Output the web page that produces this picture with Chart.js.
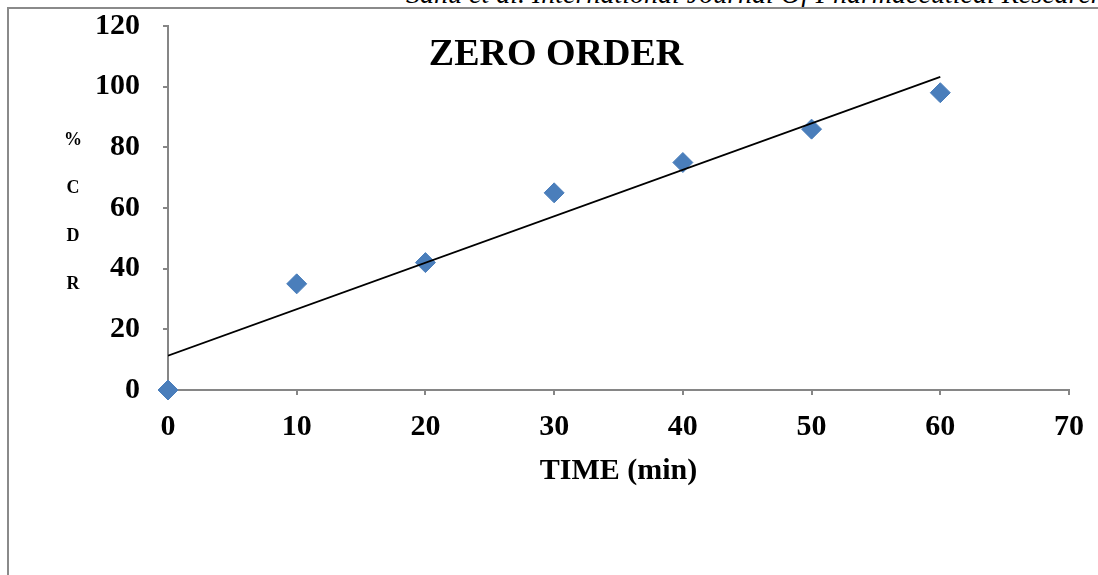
<!DOCTYPE html>
<html>
<head>
<meta charset="utf-8">
<script src="https://cdn.jsdelivr.net/npm/chart.js@4/dist/chart.umd.min.js"></script>
<style>
  html, body { margin: 0; padding: 0; background: #fff; overflow: hidden; }
  #wrap { position: relative; width: 1098px; height: 575px; overflow: hidden; }
  #frame {
    position: absolute; left: 7px; top: 7px; width: 1200px; height: 700px;
    border-top: 2px solid #8a8a8a; border-left: 2px solid #8a8a8a;
  }
  #header {
    position: absolute; left: 406px; top: -20px; white-space: nowrap;
    font: italic 28px "Liberation Serif", serif; line-height: 1; color: #000;
  }
  canvas { position: absolute; left: 0; top: 0; }
</style>
</head>
<body>
<div id="wrap">
  <div id="header">Sahu et al. International Journal Of Pharmaceutical Research</div>
  <div id="frame"></div>
  <canvas id="chart" width="1098" height="575"></canvas>
</div>
<script>
// measured points (% CDR vs time)
const timeMin = [0, 10, 20, 30, 40, 50, 60];
const cdr = [0, 35, 42, 65, 75, 86, 98];
// linear trend line, end points
const trendX = [0, 60];
const trendY = [11.3, 103.2];
const chartTitle = "ZERO ORDER";
const xTitle = "TIME (min)";
const yTitle = ["%", "C", "D", "R"];

const serif = "'Liberation Serif', 'Times New Roman', serif";
const axisGray = "#868686";

const labelsPlugin = {
  id: "labels",
  afterDraw(chart) {
    const ctx = chart.ctx;
    ctx.save();
    ctx.fillStyle = "#000";
    ctx.textAlign = "center";
    ctx.textBaseline = "alphabetic";
    ctx.font = "bold 38px " + serif;
    ctx.fillText(chartTitle, 556, 65);
    ctx.font = "bold 18px " + serif;
    yTitle.forEach((t, i) => {
      ctx.fillText(t, 73, 145 + i * 48);
    });
    ctx.restore();
  },
};

new Chart(document.getElementById("chart"), {
  type: "scatter",
  data: {
    datasets: [
      {
        type: "line",
        label: "trend",
        data: trendX.map((x, i) => ({ x: x, y: trendY[i] })),
        borderColor: "#000",
        borderWidth: 1.8,
        pointRadius: 0,
        fill: false,
        order: 0,
      },
      {
        label: "% CDR",
        data: timeMin.map((x, i) => ({ x: x, y: cdr[i] })),
        pointStyle: "rectRot",
        pointRadius: 10,
        pointBackgroundColor: "#4a7ebb",
        pointBorderColor: "#4a7ebb",
        pointBorderWidth: 1,
        clip: false,
        order: 1,
      },
    ],
  },
  options: {
    responsive: false,
    animation: false,
    layout: { padding: { left: 8, right: 28, top: 26, bottom: 86 } },
    plugins: {
      legend: { display: false },
      tooltip: { enabled: false },
    },
    scales: {
      x: {
        type: "linear",
        min: 0,
        max: 70,
        ticks: {
          stepSize: 10,
          padding: 14,
          color: "#000",
          font: { family: serif, size: 30, weight: "bold" },
        },
        grid: { drawOnChartArea: false, drawTicks: true, tickLength: 5, color: axisGray, lineWidth: 2 },
        border: { color: axisGray, width: 2 },
        title: {
          display: true,
          text: xTitle,
          color: "#000",
          padding: 0,
          font: { family: serif, size: 30, weight: "bold" },
        },
        afterFit(s) { s.height = 99; },
      },
      y: {
        min: 0,
        max: 120,
        ticks: {
          stepSize: 20,
          padding: 23,
          color: "#000",
          font: { family: serif, size: 30, weight: "bold" },
        },
        grid: { drawOnChartArea: false, drawTicks: true, tickLength: 5, color: axisGray, lineWidth: 2 },
        border: { color: axisGray, width: 2 },
        afterFit(s) {
          s.width = 160;
          // tick padding would otherwise push the plot top down
          s.paddingTop = 18;
          s.paddingBottom = 18;
        },
      },
    },
  },
  plugins: [labelsPlugin],
});
</script>
</body>
</html>
